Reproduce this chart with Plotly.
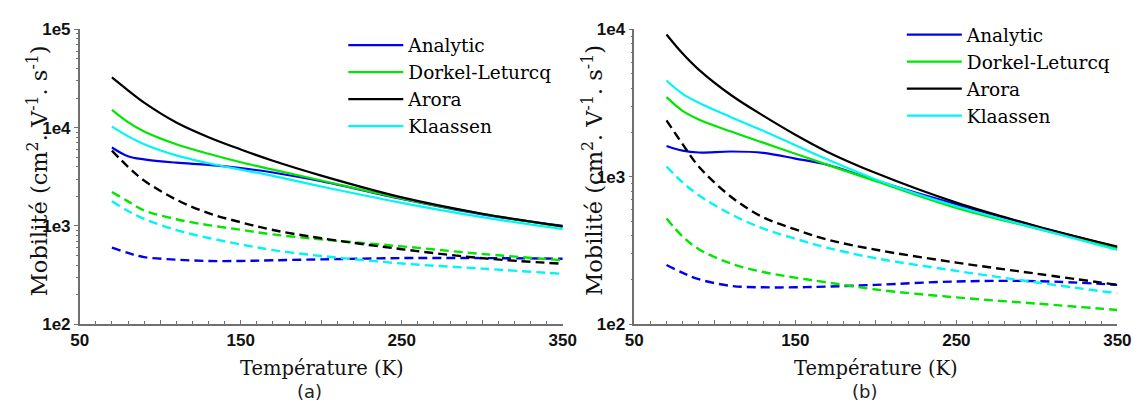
import plotly.graph_objects as go

# ---------------- data ----------------
T = [70, 80, 90, 110, 130, 150, 170, 200, 250, 300, 350]

# panel (a) - solid
analytic_a = [6290, 5120, 4750, 4400, 4180, 3880, 3500, 2850, 1880, 1310, 1000]
dorkel_a = [15200, 11400, 9150, 6790, 5430, 4450, 3740, 2900, 1900, 1330, 980]
arora_a = [32500, 24000, 18000, 11300, 8000, 6000, 4600, 3250, 1950, 1330, 990]
klaassen_a = [10240, 8190, 6790, 5220, 4350, 3740, 3230, 2520, 1720, 1230, 930]
# panel (a) - dashed
analytic_a_d = [602, 531, 482, 454, 440, 440, 447, 457, 471, 471, 464]
dorkel_a_d = [2220, 1780, 1440, 1170, 1020, 915, 820, 730, 620, 519, 447]
arora_a_d = [5850, 4000, 2900, 1850, 1350, 1090, 910, 750, 580, 470, 412]
klaassen_a_d = [1780, 1420, 1180, 908, 754, 649, 568, 495, 415, 368, 325]

# panel (b) - solid
analytic_b = [1620, 1505, 1462, 1485, 1455, 1330, 1205, 945, 650, 460, 333]
dorkel_b = [3470, 2800, 2450, 2030, 1705, 1435, 1205, 935, 616, 445, 327]
arora_b = [9240, 6860, 5340, 3590, 2600, 1930, 1475, 1060, 668, 462, 336]
klaassen_b = [4500, 3650, 3180, 2540, 2050, 1640, 1310, 960, 631, 447, 319]
# panel (b) - dashed
analytic_b_d = [252, 223, 202, 182, 178, 178, 180, 185, 195, 196, 185]
dorkel_b_d = [522, 394, 323, 258, 226, 207, 192, 172, 152, 138, 125]
arora_b_d = [2415, 1665, 1175, 733, 531, 440, 375, 320, 262, 220, 185]
klaassen_b_d = [1175, 916, 751, 557, 446, 380, 330, 280, 230, 192, 162]

names = ["Analytic", "Dorkel-Leturcq", "Arora", "Klaassen"]
colors = ["#0000f0", "#00e600", "#000000", "#00f5f5"]

x_tickvals = [50, 100, 150, 200, 250, 300, 350]
x_ticktext = ["50", "", "150", "", "250", "", "350"]
ya_tickvals = [100, 1000, 10000, 100000]
ya_ticktext = ["1e2", "1e3", "1e4", "1e5"]
yb_tickvals = [100, 1000, 10000]
yb_ticktext = ["1e2", "1e3", "1e4"]

# ---------------- style ----------------
SERIF = "DejaVu Serif"
TICKFONT = dict(family="Liberation Sans Narrow, Liberation Sans, Arial", size=17,
                color="#111111", weight="bold")
AXCOL = "#707070"

fig = go.Figure()

solid_a = [analytic_a, dorkel_a, arora_a, klaassen_a]
dashed_a = [analytic_a_d, dorkel_a_d, arora_a_d, klaassen_a_d]
solid_b = [analytic_b, dorkel_b, arora_b, klaassen_b]
dashed_b = [analytic_b_d, dorkel_b_d, arora_b_d, klaassen_b_d]

for panel, (solids, dasheds, xa, ya, leg) in enumerate([
        (solid_a, dashed_a, "x", "y", "legend"),
        (solid_b, dashed_b, "x2", "y2", "legend2")]):
    for i in range(4):
        fig.add_trace(go.Scatter(
            x=T, y=solids[i], mode="lines", name=names[i],
            line=dict(color=colors[i], width=2.2, shape="spline", smoothing=1.0),
            xaxis=xa, yaxis=ya, legend=leg, showlegend=True))
    for i in range(4):
        fig.add_trace(go.Scatter(
            x=T, y=dasheds[i], mode="lines", name=names[i] + " (dashed)",
            line=dict(color=colors[i], width=2.4, dash="9px,5px",
                      shape="spline", smoothing=1.0),
            xaxis=xa, yaxis=ya, showlegend=False))

W, H = 1142, 414
def px(x):
    return x / W
def py(y):
    return 1 - y / H

xcommon = dict(range=[50, 350], tickmode="array", tickvals=x_tickvals,
               ticktext=x_ticktext, showline=True, linecolor=AXCOL, linewidth=1.5,
               ticks="inside", ticklen=4, tickcolor=AXCOL, showgrid=False,
               zeroline=False, tickfont=TICKFONT,
               minor=dict(dtick=10, ticks="inside", ticklen=3, tickcolor=AXCOL,
                          showgrid=False))

minor_log = [m * 10 ** k for k in range(2, 5) for m in range(2, 10)]

ycommon = dict(type="log", tickmode="array", showline=True, linecolor=AXCOL,
               linewidth=1.5, ticks="outside", ticklen=4, tickcolor=AXCOL,
               showgrid=False, zeroline=False, tickfont=TICKFONT,
               minor=dict(tickvals=minor_log, ticks="outside", ticklen=2,
                          tickcolor=AXCOL, showgrid=False))

ydom = [py(322), py(13)]

LEGFONT = dict(family=SERIF, size=18.5, color="#000")
fig.update_layout(
    width=W, height=H,
    margin=dict(l=0, r=0, t=0, b=0),
    paper_bgcolor="white", plot_bgcolor="white",
    xaxis=dict(domain=[px(64), px(557)], anchor="y", **xcommon),
    yaxis=dict(domain=ydom, anchor="x", range=[2, 5], tickvals=ya_tickvals,
               ticktext=ya_ticktext, **ycommon),
    xaxis2=dict(domain=[px(630), px(1123)], anchor="y2", **xcommon),
    yaxis2=dict(domain=ydom, anchor="x2", range=[2, 4], tickvals=yb_tickvals,
                ticktext=yb_ticktext, **ycommon),
    legend=dict(x=px(333), y=py(10), xanchor="left", yanchor="top",
                bgcolor="rgba(0,0,0,0)", font=LEGFONT,
                tracegroupgap=0, itemwidth=55),
    legend2=dict(x=px(903), y=py(-1), xanchor="left", yanchor="top",
                 bgcolor="rgba(0,0,0,0)", font=LEGFONT,
                 tracegroupgap=0, itemwidth=55),
    showlegend=True,
)

ytitle = "Mobilité (cm<sup>2</sup>. V<sup>-1</sup>. s<sup>-1</sup>)"
annots = []
for off, lab in [(0, "(a)"), (566, "(b)")]:
    annots.append(dict(text="Température (K)", x=px(311 + off), y=py(368),
                       xref="paper", yref="paper", showarrow=False,
                       xanchor="center", yanchor="middle",
                       font=dict(family=SERIF, size=19.5, color="#111")))
    annots.append(dict(text=lab, x=px(299 + off), y=py(393),
                       xref="paper", yref="paper", showarrow=False,
                       xanchor="center", yanchor="middle",
                       font=dict(family="DejaVu Sans", size=18, color="#222")))
    annots.append(dict(text=ytitle, x=px(21 + off), y=py(161), textangle=-90,
                       xref="paper", yref="paper", showarrow=False,
                       xanchor="center", yanchor="middle",
                       font=dict(family=SERIF, size=22.5, color="#111")))
fig.update_layout(annotations=annots)

fig.write_html("out.html")
